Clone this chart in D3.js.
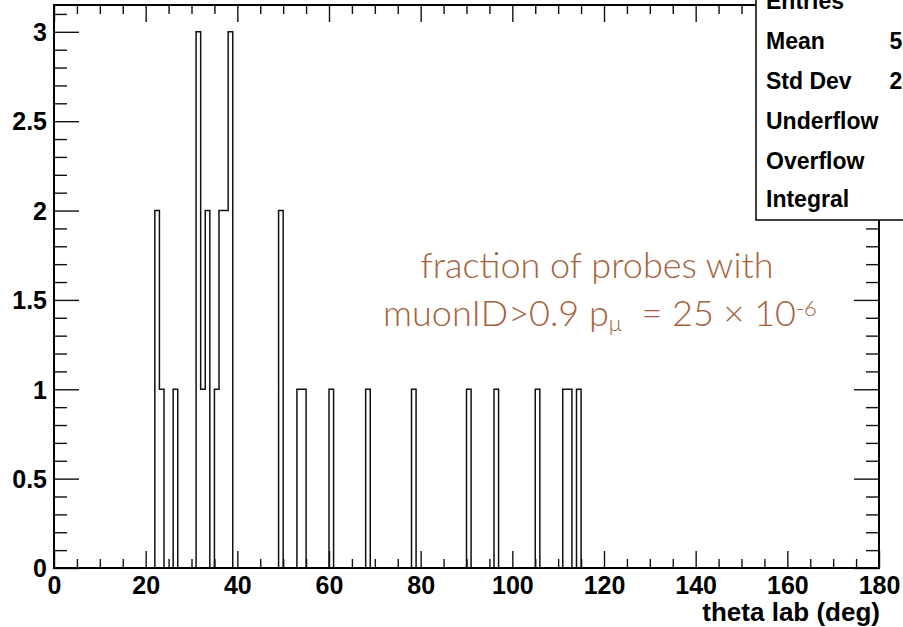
<!DOCTYPE html>
<html>
<head>
<meta charset="utf-8">
<script src="https://cdn.jsdelivr.net/npm/d3@7"></script>
<style>
  html, body { margin: 0; padding: 0; background: #fff; }
  svg { display: block; }
</style>
</head>
<body>
<div id="chart"></div>
<script>
// Histogram of theta lab (deg): 1-degree bins from 0 to 180.
// Only the non-empty bins are listed: lower bin edge and its count.
const binLow = [22, 23, 26, 31, 32, 33, 35, 36, 37, 38, 49, 53, 54, 60, 68, 78, 90, 96, 105, 111, 112, 114];
const counts = [2, 1, 1, 3, 1, 2, 1, 2, 2, 3, 2, 1, 1, 1, 1, 1, 1, 1, 1, 1, 1, 1];

const xTickLabels = ["0", "20", "40", "60", "80", "100", "120", "140", "160", "180"];
const yTickLabels = ["0", "0.5", "1", "1.5", "2", "2.5", "3"];

const xRange = [0, 180];
const nBins = 180;
const yMax = 3.15;

const statNames = ["Entries", "Mean", "Std Dev", "Underflow", "Overflow", "Integral"];

const W = 903, H = 627;
const frame = { left: 54, right: 879, top: 5, bottom: 568 };

const svg = d3.select("#chart").append("svg")
  .attr("width", W).attr("height", H)
  .attr("viewBox", `0 0 ${W} ${H}`);

const x = d3.scaleLinear().domain(xRange).range([frame.left, frame.right]);
const y = d3.scaleLinear().domain([0, yMax]).range([frame.bottom, frame.top]);

// Full bin content array
const binWidth = (xRange[1] - xRange[0]) / nBins;
const content = new Array(nBins).fill(0);
binLow.forEach((lo, i) => { content[Math.round((lo - xRange[0]) / binWidth)] = counts[i]; });

// Step outline of the histogram
const pts = [[xRange[0], 0]];
content.forEach((c, i) => {
  const lo = xRange[0] + i * binWidth, hi = lo + binWidth;
  pts.push([lo, c], [hi, c]);
});
pts.push([xRange[1], 0]);
svg.append("path")
  .attr("d", d3.line().x(d => x(d[0])).y(d => y(d[1]))(pts))
  .attr("fill", "none")
  .attr("stroke", "#111")
  .attr("stroke-width", 1.5);

// Axes: ticks on all four sides, labels bottom and left
const font = "'Liberation Sans', Arial, Helvetica, sans-serif";
const xMajor = d3.range(0, 181, 20), xMinor = d3.range(0, 181, 5).filter(v => v % 20 !== 0);
const yMajor = d3.range(0, 3.01, 0.5), yMinor = d3.range(0, 3.15, 0.1).filter(v => Math.abs(v * 2 - Math.round(v * 2)) > 1e-6);

const axisBottom = d3.axisBottom(x).tickValues(xMajor).tickSize(-17).tickFormat((d, i) => xTickLabels[i]);
const gxb = svg.append("g").attr("transform", `translate(0,${frame.bottom})`).call(axisBottom);
svg.append("g").attr("transform", `translate(0,${frame.bottom})`)
  .call(d3.axisBottom(x).tickValues(xMinor).tickSize(-9).tickFormat(""));
svg.append("g").attr("transform", `translate(0,${frame.top})`)
  .call(d3.axisTop(x).tickValues(xMajor).tickSize(-17).tickFormat(""));
svg.append("g").attr("transform", `translate(0,${frame.top})`)
  .call(d3.axisTop(x).tickValues(xMinor).tickSize(-9).tickFormat(""));

const axisLeft = d3.axisLeft(y).tickValues(yMajor).tickSize(-25).tickFormat((d, i) => yTickLabels[i]);
const gyl = svg.append("g").attr("transform", `translate(${frame.left},0)`).call(axisLeft);
svg.append("g").attr("transform", `translate(${frame.left},0)`)
  .call(d3.axisLeft(y).tickValues(yMinor).tickSize(-13).tickFormat(""));
svg.append("g").attr("transform", `translate(${frame.right},0)`)
  .call(d3.axisRight(y).tickValues(yMajor).tickSize(-25).tickFormat(""));
svg.append("g").attr("transform", `translate(${frame.right},0)`)
  .call(d3.axisRight(y).tickValues(yMinor).tickSize(-13).tickFormat(""));

svg.selectAll(".domain").remove();
svg.selectAll(".tick line").attr("stroke", "#111").attr("stroke-width", 1.4);
svg.selectAll(".tick text")
  .attr("fill", "#000")
  .attr("font-family", font)
  .attr("font-weight", "bold")
  .attr("font-size", 25);
gxb.selectAll(".tick text").attr("dy", null).attr("y", 26);
gyl.selectAll(".tick text").attr("dy", "0.35em").attr("x", -7);

// Frame
svg.append("rect")
  .attr("x", frame.left).attr("y", frame.top)
  .attr("width", frame.right - frame.left).attr("height", frame.bottom - frame.top)
  .attr("fill", "none").attr("stroke", "#000").attr("stroke-width", 2);

// Axis title
svg.append("text")
  .attr("x", 880).attr("y", 621)
  .attr("text-anchor", "end")
  .attr("font-family", font).attr("font-weight", "bold").attr("font-size", 26)
  .attr("fill", "#000")
  .text("theta lab (deg)");

// Annotation
const noteColor = "#a4623a";
const noteFont = "Lato, 'Open Sans', 'Noto Sans', sans-serif";
const note = svg.append("g")
  .attr("fill", noteColor)
  .attr("font-family", noteFont)
  .attr("font-weight", 300)
  .attr("font-size", 36)
  .attr("text-anchor", "middle");
note.append("text").attr("x", 597).attr("y", 278).text("fraction of probes with");
const l2 = note.append("text").attr("x", 600).attr("y", 326);
l2.append("tspan").text("muonID>0.9 p");
l2.append("tspan").attr("font-size", 22).attr("dy", 5).text("μ");
l2.append("tspan").attr("dy", -5).text("\u00a0 = 25 × 10");
l2.append("tspan").attr("font-size", 22).attr("dy", -10).text("-6");

// Statistics box (extends past the right edge)
const allX = [], allW = [];
binLow.forEach((lo, i) => { allX.push(lo + binWidth / 2); allW.push(counts[i]); });
const nEntries = d3.sum(allW);
const mean = d3.sum(allX.map((v, i) => v * allW[i])) / nEntries;
const sd = Math.sqrt(d3.sum(allX.map((v, i) => allW[i] * (v - mean) ** 2)) / nEntries);
const statValues = [String(nEntries), mean.toFixed(2), sd.toFixed(2), "0", "0", String(nEntries)];

const stats = svg.append("g");
stats.append("rect")
  .attr("x", 756).attr("y", -30).attr("width", 240).attr("height", 250)
  .attr("fill", "#fff").attr("stroke", "#000").attr("stroke-width", 1.5);
const statBase = [9, 49, 89, 129, 169, 207];
statNames.forEach((name, i) => {
  stats.append("text")
    .attr("x", 766).attr("y", statBase[i])
    .attr("font-family", font).attr("font-weight", "bold").attr("font-size", 23)
    .attr("fill", "#000").text(name);
  stats.append("text")
    .attr("x", 947).attr("y", statBase[i]).attr("text-anchor", "end")
    .attr("font-family", font).attr("font-weight", "bold").attr("font-size", 23)
    .attr("fill", "#000").text(statValues[i]);
});
</script>
</body>
</html>
